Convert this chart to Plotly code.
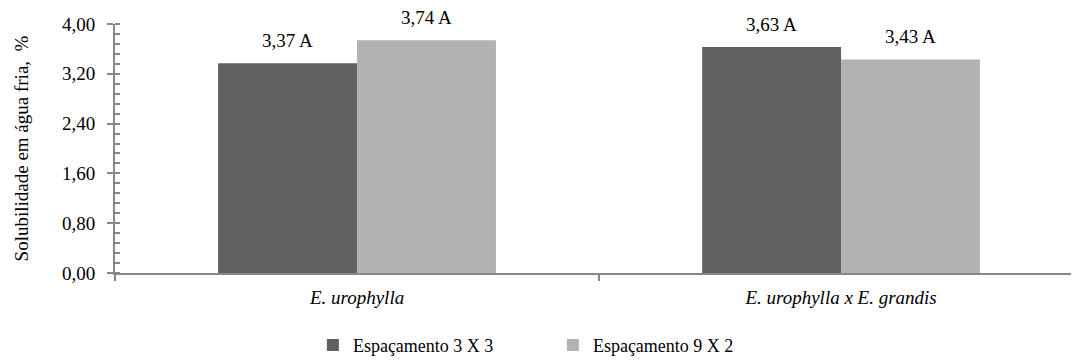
import plotly.graph_objects as go

# Cold-water solubility by species and planting spacing
categories = ["<i>E. urophylla</i>", "<i>E. urophylla x E. grandis</i>"]
series_names = ["Espaçamento 3 X 3", "Espaçamento 9 X 2"]
values_3x3 = [3.37, 3.63]
values_9x2 = [3.74, 3.43]
letters_3x3 = ["A", "A"]
letters_9x2 = ["A", "A"]
y_ticks = [0.0, 0.8, 1.6, 2.4, 3.2, 4.0]

colors = ["#606060", "#b2b2b2"]
axis_color = "#878787"
font_family = "Times New Roman, Liberation Serif, DejaVu Serif, serif"


def fmt(v, d=2):
    return f"{v:.{d}f}".replace(".", ",")


fig = go.Figure()
for name, vals, letters, col in [
    (series_names[0], values_3x3, letters_3x3, colors[0]),
    (series_names[1], values_9x2, letters_9x2, colors[1]),
]:
    fig.add_trace(go.Bar(
        x=categories, y=vals, name=name,
        marker=dict(color=col, line=dict(width=0)),
        hovertext=[f"{fmt(v)} {l}" for v, l in zip(vals, letters)],
    ))

# value labels above each bar
annotations = []
for i, (vals, letters) in enumerate([(values_3x3, letters_3x3), (values_9x2, letters_9x2)]):
    for j, (v, l) in enumerate(zip(vals, letters)):
        annotations.append(dict(
            x=j, y=v, xref="x", yref="y",
            xshift=(i - 0.5) * 139,
            text=f"{fmt(v)} {l}", showarrow=False,
            yanchor="bottom", yshift=10,
            font=dict(family=font_family, size=19, color="#000"),
        ))

fig.update_layout(
    width=1072, height=363,
    margin=dict(l=115, r=1, t=24, b=90),
    paper_bgcolor="white", plot_bgcolor="white",
    barmode="group", bargap=0.426, bargroupgap=0,
    font=dict(family=font_family, size=19, color="#000"),
    annotations=annotations,
    showlegend=True,
    legend=dict(
        orientation="h", x=0.207, xanchor="left",
        yref="container", y=0.10, yanchor="top",
        font=dict(family=font_family, size=18, color="#000"),
        entrywidth=195, entrywidthmode="pixels",
        itemclick=False,
    ),
    xaxis=dict(
        type="category", range=[-0.5, 1.475],
        showline=True, linecolor=axis_color, linewidth=2,
        ticks="outside", tickson="boundaries", ticklen=6,
        tickcolor=axis_color, tickwidth=2,
        showgrid=False, zeroline=False, ticklabelstandoff=6,
        tickfont=dict(family=font_family, size=19, color="#000"),
    ),
    yaxis=dict(
        range=[0, 4.0], tickvals=y_ticks,
        ticktext=[fmt(t) for t in y_ticks],
        showline=True, linecolor=axis_color, linewidth=2,
        ticks="outside", ticklen=6, tickcolor=axis_color, tickwidth=2,
        minor=dict(dtick=0.16, ticks="inside", ticklen=5,
                   tickcolor=axis_color, tickwidth=2, showgrid=False),
        showgrid=False, zeroline=False, ticklabelstandoff=8,
        tickfont=dict(family=font_family, size=19, color="#000"),
        title=dict(text="Solubilidade em água fria,  %", standoff=28,
                   font=dict(family=font_family, size=19, color="#000")),
    ),
    yaxis2=dict(
        overlaying="y", side="left", range=[0, 4.0], tickvals=y_ticks,
        showticklabels=False, ticks="inside", ticklen=5,
        tickcolor=axis_color, tickwidth=2, showgrid=False,
        zeroline=False, showline=False,
    ),
)

# invisible trace to activate the overlay axis carrying the inner major ticks
fig.add_trace(go.Scatter(x=[categories[0]], y=[0], yaxis="y2", mode="markers",
                         marker=dict(opacity=0), showlegend=False,
                         hoverinfo="skip"))

fig.write_html("out.html")
